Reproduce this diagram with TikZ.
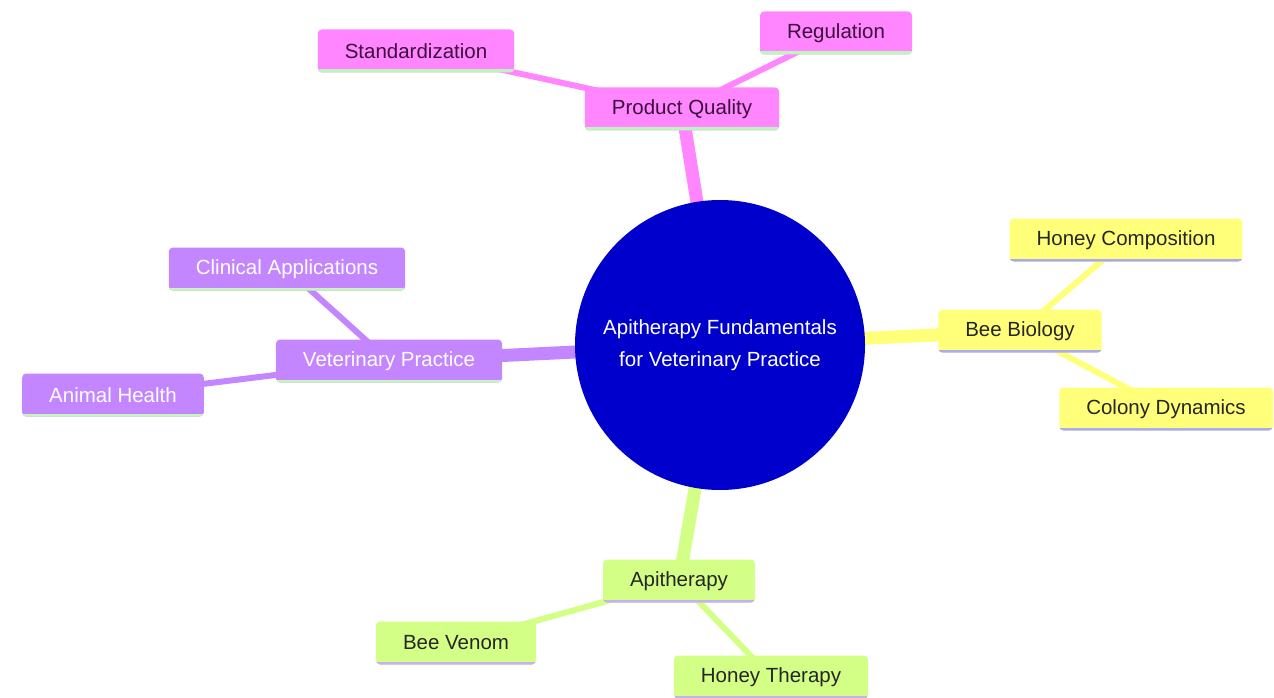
\documentclass[tikz,border=0pt]{standalone}
\usepackage{fontspec}
\setmainfont{Liberation Sans}
\usetikzlibrary{backgrounds}
\definecolor{rootblue}{RGB}{0,0,204}
\definecolor{secpink}{RGB}{255,134,255}
\definecolor{secyellow}{RGB}{255,255,121}
\definecolor{secgreen}{RGB}{212,255,134}
\definecolor{secpurple}{RGB}{195,134,255}
\definecolor{invpink}{RGB}{190,245,190}
\definecolor{invyellow}{RGB}{170,170,240}
\definecolor{invgreen}{RGB}{200,175,240}
\definecolor{invpurple}{RGB}{200,245,190}
\definecolor{pinktext}{RGB}{60,15,60}
\newcommand{\mmfont}{\fontsize{20.5}{25}\selectfont}
\tikzstyle{rootnode} = [circle, minimum size=290pt, fill=rootblue, text=white, align=center, font=\fontsize{20.5}{32}\selectfont]
\tikzstyle{mmbox} = [rectangle, rounded corners=4pt, inner xsep=27pt, minimum height=43pt, text centered, font=\mmfont]
\tikzset{
  section/.style n args={3}{mmbox, fill=#1, text=#3,
    path picture={\draw [#2, line width=6pt] (path picture bounding box.south west) -- (path picture bounding box.south east);}},
  pinkbox/.style={section={secpink}{invpink}{pinktext}},
  yellowbox/.style={section={secyellow}{invyellow}{black!85}},
  greenbox/.style={section={secgreen}{invgreen}{black!85}},
  purplebox/.style={section={secpurple}{invpurple}{white}},
  rootedge/.style={line width=13pt},
  leafedge/.style={line width=6pt}
}

\begin{document}
\begin{tikzpicture}[x=1pt, y=-1pt]
    \useasboundingbox (0,0) rectangle (1274,698);

    \node (root) [rootnode] at (720,345) {Apitherapy Fundamentals\\for Veterinary Practice};

    % product quality branch
    \node (quality) [pinkbox] at (682,109) {Product Quality};
    \node (standard) [pinkbox] at (416,51) {Standardization};
    \node (regul) [pinkbox] at (836,33) {Regulation};

    % bee biology branch
    \node (biology) [yellowbox] at (1020,331) {Bee Biology};
    \node (honeycomp) [yellowbox] at (1126,240) {Honey Composition};
    \node (colony) [yellowbox] at (1166,409) {Colony Dynamics};

    % apitherapy branch
    \node (apither) [greenbox] at (679,581) {Apitherapy};
    \node (venom) [greenbox] at (456,643) {Bee Venom};
    \node (honeyther) [greenbox] at (771,677) {Honey Therapy};

    % veterinary branch
    \node (vetprac) [purplebox] at (389,361) {Veterinary Practice};
    \node (clinic) [purplebox] at (287,269) {Clinical Applications};
    \node (animal) [purplebox] at (113,395) {Animal Health};

    \begin{scope}[on background layer]
    \draw [rootedge, secpink] (root.center) -- (quality.center);
    \draw [leafedge, secpink] (quality.center) -- (standard.center);
    \draw [leafedge, secpink] (quality.center) -- (regul.center);
    \draw [rootedge, secyellow] (root.center) -- (biology.center);
    \draw [leafedge, secyellow] (biology.center) -- (honeycomp.center);
    \draw [leafedge, secyellow] (biology.center) -- (colony.center);
    \draw [rootedge, secgreen] (root.center) -- (apither.center);
    \draw [leafedge, secgreen] (apither.center) -- (venom.center);
    \draw [leafedge, secgreen] (apither.center) -- (honeyther.center);
    \draw [rootedge, secpurple] (root.center) -- (vetprac.center);
    \draw [leafedge, secpurple] (vetprac.center) -- (clinic.center);
    \draw [leafedge, secpurple] (vetprac.center) -- (animal.center);
    \end{scope}
\end{tikzpicture}
\end{document}
